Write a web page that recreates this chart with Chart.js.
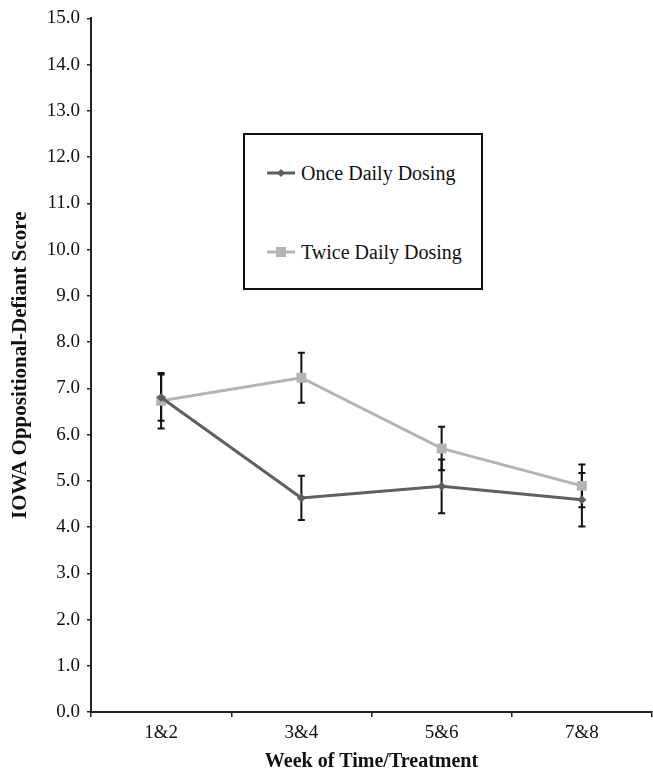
<!DOCTYPE html>
<html>
<head>
<meta charset="utf-8">
<script src="https://cdn.jsdelivr.net/npm/chart.js@4.4.1/dist/chart.umd.min.js"></script>
<style>
  html, body { margin: 0; padding: 0; background: #fff; overflow: hidden; }
  #wrap { position: relative; width: 653px; height: 774px; }
  #c { display: block; }
  #legend {
    position: absolute; left: 243px; top: 133px; width: 236px; height: 153px;
    border: 2px solid #111; background: #fff;
    font-family: "Liberation Serif", "Times New Roman", serif; font-size: 20px; color: #111;
  }
  .item { position: absolute; left: 22px; height: 20px; display: flex; align-items: center; white-space: nowrap; }
  .item canvas { margin-right: 6px; }
</style>
</head>
<body>
<div id="wrap">
  <canvas id="c" width="653" height="774"></canvas>
  <div id="legend">
    <div class="item" style="top:28px"><canvas id="l1" width="28" height="14"></canvas><span>Once Daily Dosing</span></div>
    <div class="item" style="top:107px"><canvas id="l2" width="28" height="14"></canvas><span>Twice Daily Dosing</span></div>
  </div>
</div>
<script>
const categories = ["1&2", "3&4", "5&6", "7&8"];
const onceMean  = [6.80, 4.63, 4.88, 4.59];
const onceErr   = [0.50, 0.48, 0.58, 0.58];
const twiceMean = [6.73, 7.23, 5.70, 4.89];
const twiceErr  = [0.60, 0.54, 0.47, 0.46];
const seriesNames = ["Once Daily Dosing", "Twice Daily Dosing"];
const yTitle = "IOWA Oppositional-Defiant Score";
const xTitle = "Week of Time/Treatment";

const ONCE_COLOR = "#5f5f5f";
const TWICE_COLOR = "#b4b4b4";
const SERIF = "'Liberation Serif', 'Times New Roman', serif";

const errorBars = {
  id: "errorBars",
  beforeDatasetsDraw(chart) {
    const ctx = chart.ctx;
    const ys = chart.scales.y;
    const errs = [onceErr, twiceErr];
    ctx.save();
    ctx.strokeStyle = "#111";
    ctx.lineWidth = 2;
    chart.data.datasets.forEach((ds, i) => {
      const meta = chart.getDatasetMeta(i);
      meta.data.forEach((pt, j) => {
        const v = ds.data[j];
        const e = errs[i][j];
        const top = ys.getPixelForValue(v + e);
        const bot = ys.getPixelForValue(v - e);
        const x = pt.x;
        ctx.beginPath();
        ctx.moveTo(x, top); ctx.lineTo(x, bot);
        ctx.moveTo(x - 3.5, top); ctx.lineTo(x + 3.5, top);
        ctx.moveTo(x - 3.5, bot); ctx.lineTo(x + 3.5, bot);
        ctx.stroke();
      });
    });
    ctx.restore();
  }
};

new Chart(document.getElementById("c"), {
  type: "line",
  data: {
    labels: categories,
    datasets: [
      { label: seriesNames[0], data: onceMean, borderColor: ONCE_COLOR, backgroundColor: ONCE_COLOR,
        borderWidth: 3, pointStyle: "rectRot", pointRadius: 4.5, pointBorderWidth: 0, tension: 0 },
      { label: seriesNames[1], data: twiceMean, borderColor: TWICE_COLOR, backgroundColor: TWICE_COLOR,
        borderWidth: 3, pointStyle: "rect", pointRadius: 7, pointBorderWidth: 0, tension: 0 }
    ]
  },
  options: {
    responsive: false,
    animation: false,
    layout: { autoPadding: false, padding: { top: 17, right: 1, left: 0, bottom: 0 } },
    plugins: { legend: { display: false }, tooltip: { enabled: false } },
    scales: {
      x: {
        offset: true,
        grid: { offset: true, drawOnChartArea: false, tickLength: 5, color: "#222", lineWidth: 1.5 },
        border: { color: "#222", width: 2 },
        ticks: { font: { family: SERIF, size: 19 }, color: "#111", padding: 5 },
        title: { display: true, text: xTitle, font: { family: SERIF, size: 20, weight: "bold" }, color: "#111", padding: { top: 2, bottom: 0 } },
        afterFit(s) { s.height = 62; s.paddingRight = 0; s.paddingLeft = 0; }
      },
      y: {
        min: 0, max: 15,
        ticks: { stepSize: 1, callback: v => Number(v).toFixed(1), font: { family: SERIF, size: 19 }, color: "#111", padding: 7 },
        grid: { drawOnChartArea: false, tickLength: 4, color: "#222", lineWidth: 1.5 },
        border: { color: "#222", width: 2 },
        title: { display: true, text: yTitle, font: { family: SERIF, size: 21, weight: "bold" }, color: "#111", padding: { top: 8, bottom: 0 } },
        afterFit(s) { s.width = 91; }
      }
    }
  },
  plugins: [errorBars]
});

function legendIcon(id, color, style) {
  const c = document.getElementById(id).getContext("2d");
  c.strokeStyle = color; c.fillStyle = color; c.lineWidth = 3;
  c.beginPath(); c.moveTo(0, 7); c.lineTo(28, 7); c.stroke();
  if (style === "diamond") {
    c.beginPath(); c.moveTo(14, 3); c.lineTo(18, 7); c.lineTo(14, 11); c.lineTo(10, 7); c.closePath(); c.fill();
  } else {
    c.fillRect(9, 2, 10, 10);
  }
}
legendIcon("l1", ONCE_COLOR, "diamond");
legendIcon("l2", TWICE_COLOR, "square");
</script>
</body>
</html>
